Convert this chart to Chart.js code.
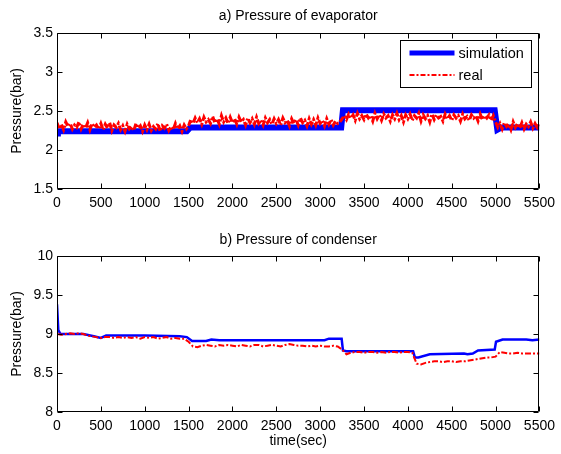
<!DOCTYPE html>
<html>
<head>
<meta charset="utf-8">
<script src="https://cdn.jsdelivr.net/npm/chart.js@4.4.1/dist/chart.umd.min.js"></script>
<style>
  html, body { margin: 0; padding: 0; background: #fff; }
  #wrap { position: relative; width: 561px; height: 454px; background: #fff; }
  .c { position: absolute; left: 0; }
</style>
</head>
<body>
<div id="wrap">
  <div class="c" style="top:0px;width:561px;height:227px"><canvas id="c1"></canvas></div>
  <div class="c" style="top:223px;width:561px;height:231px"><canvas id="c2"></canvas></div>
</div>
<script>
// ---------------- data ----------------
const xTicks = [0, 500, 1000, 1500, 2000, 2500, 3000, 3500, 4000, 4500, 5000, 5500];
const yTicksEvap = [1.5, 2, 2.5, 3, 3.5];
const yTicksCond = [8, 8.5, 9, 9.5, 10];

// a) evaporator – simulation (step changes)
const simEvapTime  = [0,    10,   1480, 1520, 3240, 3260, 4990, 5020, 5070, 5500];
const simEvapValue = [2.21, 2.24, 2.24, 2.29, 2.29, 2.51, 2.51, 2.26, 2.29, 2.29];

// a) evaporator – real (sampled every 25 s, 0..5500)
const realEvapStep = 25;
const realEvapValue = [
  2.35,2.27,2.33,2.26,2.36,2.30,2.34,2.27,2.32,2.29,2.36,2.27,2.33,2.28,2.35,2.26,2.34,2.29,2.32,2.27,
  2.34,2.26,2.33,2.28,2.35,2.25,2.32,2.29,2.34,2.26,2.31,2.24,2.33,2.27,2.30,2.25,2.34,2.28,2.31,2.24,
  2.32,2.26,2.33,2.25,2.30,2.27,2.34,2.24,2.31,2.28,2.33,2.25,2.30,2.26,2.34,2.27,2.31,2.24,2.32,2.27,
  2.31,2.39,2.34,2.41,2.35,2.40,2.33,2.42,2.36,2.39,2.34,2.43,2.35,2.40,2.33,2.44,2.36,2.41,2.34,2.42,
  2.35,2.40,2.33,2.42,2.36,2.39,2.32,2.41,2.35,2.40,2.33,2.42,2.34,2.38,2.32,2.41,2.35,2.39,2.33,2.40,
  2.34,2.39,2.32,2.41,2.35,2.38,2.31,2.40,2.34,2.39,2.32,2.41,2.35,2.38,2.31,2.40,2.33,2.39,2.32,2.41,
  2.34,2.38,2.31,2.40,2.33,2.39,2.32,2.37,2.34,2.36,2.40,2.44,2.39,2.46,2.41,2.45,2.38,2.47,2.40,2.44,
  2.39,2.46,2.41,2.44,2.37,2.47,2.40,2.45,2.38,2.46,2.41,2.44,2.37,2.45,2.40,2.47,2.39,2.44,2.36,2.45,
  2.40,2.46,2.38,2.44,2.41,2.47,2.37,2.45,2.40,2.44,2.36,2.46,2.39,2.45,2.41,2.43,2.37,2.46,2.40,2.44,
  2.38,2.45,2.41,2.44,2.37,2.46,2.40,2.43,2.38,2.45,2.41,2.44,2.37,2.46,2.39,2.44,2.41,2.45,2.38,2.44,
  2.36,2.29,2.34,2.27,2.35,2.30,2.33,2.26,2.36,2.29,2.34,2.28,2.35,2.27,2.33,2.30,2.36,2.28,2.34,2.29,
  2.33
];

// b) condenser – simulation
const simCondTime  = [0,    15,   40,   300,  420,  500,  560,  1000, 1400, 1480, 1540, 1700, 1760, 1850, 3050, 3100, 3245, 3260, 3300, 4060, 4080, 4120, 4250, 4640, 4680, 4740, 4800, 4990, 5005, 5080, 5350, 5420, 5500];
const simCondValue = [9.38, 9.05, 9.00, 9.00, 8.97, 8.95, 8.98, 8.98, 8.97, 8.96, 8.91, 8.91, 8.93, 8.92, 8.92, 8.94, 8.94, 8.79, 8.78, 8.78, 8.70, 8.70, 8.74, 8.75, 8.74, 8.75, 8.79, 8.80, 8.90, 8.93, 8.93, 8.92, 8.93];

// b) condenser – real (sampled every 50 s, 0..5500)
const realCondStep = 50;
const realCondValue = [
  9.00,8.99,9.00,9.01,9.00,9.01,9.00,8.98,8.97,8.96,8.95,8.96,8.96,8.95,8.96,8.95,8.96,8.95,8.96,8.94,
  8.96,8.95,8.96,8.94,8.95,8.96,8.94,8.95,8.94,8.94,8.90,8.84,8.83,8.85,8.86,8.85,8.84,8.86,8.85,8.86,
  8.85,8.84,8.86,8.85,8.84,8.86,8.86,8.84,8.85,8.86,8.85,8.84,8.86,8.87,8.86,8.85,8.85,8.84,8.85,8.84,
  8.85,8.84,8.84,8.85,8.84,8.80,8.74,8.76,8.77,8.77,8.76,8.77,8.77,8.76,8.77,8.76,8.77,8.77,8.76,8.77,
  8.77,8.76,8.62,8.61,8.63,8.64,8.65,8.65,8.64,8.65,8.65,8.64,8.65,8.65,8.66,8.67,8.68,8.69,8.70,8.70,
  8.71,8.77,8.76,8.75,8.75,8.76,8.75,8.75,8.75,8.75,8.75
];

const seriesNames = ['simulation', 'real'];

// ---------------- helpers ----------------
const FONT = '"Liberation Sans", Arial, sans-serif';
const zip = (t, v) => t.map((x, i) => ({ x: x, y: v[i] }));
const sampled = (step, v) => v.map((y, i) => ({ x: i * step, y: y }));

const matlabBox = {
  id: 'matlabBox',
  afterDraw(chart, args, opts) {
    const { ctx, chartArea, scales } = chart;
    const L = Math.round(chartArea.left) + 0.5, R = Math.round(chartArea.right) - 0.5;
    const T = Math.round(chartArea.top) + 0.5, B = Math.round(chartArea.bottom) - 0.5;
    ctx.save();
    ctx.strokeStyle = '#000';
    ctx.lineWidth = 1;
    ctx.beginPath();
    ctx.rect(L, T, R - L, B - T);
    const tl = 5;
    scales.x.ticks.forEach(t => {
      const p = Math.round(scales.x.getPixelForValue(t.value)) + 0.5;
      ctx.moveTo(p, B); ctx.lineTo(p, B - tl);
      ctx.moveTo(p, T); ctx.lineTo(p, T + tl);
    });
    scales.y.ticks.forEach(t => {
      const p = Math.round(scales.y.getPixelForValue(t.value)) + 0.5;
      ctx.moveTo(L, p); ctx.lineTo(L + tl, p);
      ctx.moveTo(R, p); ctx.lineTo(R - tl, p);
    });
    ctx.stroke();
    // title
    ctx.fillStyle = '#000';
    ctx.font = '14px ' + FONT;
    ctx.textAlign = 'center';
    ctx.textBaseline = 'alphabetic';
    ctx.fillText(opts.title, (chartArea.left + chartArea.right) / 2, opts.titleY);
    // legend
    if (opts.legend) {
      const ds = chart.data.datasets;
      const bx = Math.round(chartArea.right) - 138.5, by = Math.round(chartArea.top) + 7.5;
      const bw = 131, bh = 47;
      ctx.fillStyle = '#fff';
      ctx.fillRect(bx, by, bw, bh);
      ctx.strokeStyle = '#000';
      ctx.lineWidth = 1;
      ctx.strokeRect(bx, by, bw, bh);
      const rows = [ds[1], ds[0]];
      rows.forEach((d, i) => {
        const yy = by + 12.5 + i * 22;
        ctx.save();
        ctx.strokeStyle = d.borderColor;
        ctx.lineWidth = d.legendWidth || d.borderWidth;
        ctx.setLineDash(d.legendDash || []);
        ctx.beginPath();
        ctx.moveTo(bx + 9, yy);
        ctx.lineTo(bx + 54, yy);
        ctx.stroke();
        ctx.restore();
        ctx.fillStyle = '#000';
        ctx.font = '14.5px ' + FONT;
        ctx.textAlign = 'left';
        ctx.textBaseline = 'middle';
        ctx.fillText(d.label, bx + 58, yy + 0.5);
      });
    }
    ctx.restore();
  }
};

function makeChart(id, real, sim, yMin, yMax, yTickVals, title, titleY, showLegend, showXTitle, simWidth, realWidth) {
  const xAxisH = showXTitle ? 42 : 38;
  return new Chart(document.getElementById(id), {
    type: 'scatter',
    data: {
      datasets: [
        { label: seriesNames[1], data: real, showLine: true, borderColor: '#ff0000', backgroundColor: '#ff0000',
          borderWidth: realWidth, borderDash: [6, 2, 2, 2], pointRadius: 0, tension: 0, order: 0,
          legendWidth: 2, legendDash: [5, 2, 2, 2] },
        { label: seriesNames[0], data: sim, showLine: true, borderColor: '#0000ff', backgroundColor: '#0000ff',
          borderWidth: simWidth, pointRadius: 0, tension: 0, order: 1, legendWidth: 5, borderJoinStyle: 'miter' }
      ]
    },
    options: {
      responsive: true,
      maintainAspectRatio: false,
      animation: false,
      events: [],
      layout: { padding: { top: 33, left: 0, right: 16, bottom: 0 } },
      plugins: {
        legend: { display: false },
        tooltip: { enabled: false },
        matlabBox: { title: title, titleY: titleY, legend: showLegend }
      },
      scales: {
        x: {
          type: 'linear', min: 0, max: 5500,
          grid: { display: false, drawTicks: false },
          border: { display: false },
          afterBuildTicks: s => { s.ticks = xTicks.map(v => ({ value: v })); },
          afterFit: s => { s.height = xAxisH; },
          ticks: { autoSkip: false, maxRotation: 0, padding: 6, color: '#000', font: { family: FONT, size: 14 },
                   callback: v => String(v) },
          title: { display: showXTitle, text: 'time(sec)', color: '#000', font: { family: FONT, size: 14 },
                   padding: { top: 0, bottom: 4 } }
        },
        y: {
          type: 'linear', min: yMin, max: yMax,
          grid: { display: false, drawTicks: false },
          border: { display: false },
          afterBuildTicks: s => { s.ticks = yTickVals.map(v => ({ value: v })); },
          afterFit: s => { s.width = 57; },
          ticks: { autoSkip: false, padding: 4, color: '#000', font: { family: FONT, size: 14 },
                   callback: v => String(v) },
          title: { display: true, text: 'Pressure(bar)', color: '#000', font: { family: FONT, size: 14 },
                   padding: { top: 9, bottom: 0 } }
        }
      }
    },
    plugins: [matlabBox]
  });
}

makeChart('c1', sampled(realEvapStep, realEvapValue), zip(simEvapTime, simEvapValue),
  1.5, 3.5, yTicksEvap, 'a) Pressure of evaporator', 20, true, false, 6, 3);
makeChart('c2', sampled(realCondStep, realCondValue), zip(simCondTime, simCondValue),
  8, 10, yTicksCond, 'b) Pressure of condenser', 21, false, true, 2.5, 2);
</script>
</body>
</html>
